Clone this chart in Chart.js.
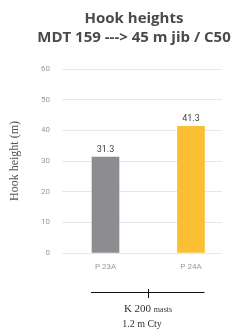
<!DOCTYPE html>
<html><head><meta charset="utf-8">
<script src="https://cdn.jsdelivr.net/npm/chart.js@4"></script>
<style>
html,body{margin:0;padding:0;background:#fff;}
#wrap{position:relative;width:243px;height:331px;overflow:hidden;}
#title{position:absolute;left:0;top:8px;width:268px;text-align:center;font:bold 15px "Open Sans",sans-serif;line-height:19px;color:#4a4a4a;white-space:nowrap;letter-spacing:0px;}
.note{position:absolute;left:0;width:296px;text-align:center;font-family:"Liberation Serif",serif;color:#333;white-space:nowrap;}
</style></head>
<body>
<div id="wrap">
<canvas id="c" width="243" height="331"></canvas>
<div id="title">Hook heights<br>MDT 159 ---&gt; 45 m jib / C50</div>
<div class="note" style="top:302px;font-size:11px;">K 200 <span style="font-size:8px">masts</span></div>
<div class="note" style="top:318px;font-size:10px;left:-6px;">1.2 m Cty</div>
</div>
<script>
const categories = ['P 23A', 'P 24A'];
const heights = [31.3, 41.3];
const barColors = ['#8d8d91', '#fbbf33'];
const yTicks = [0, 10, 20, 30, 40, 50, 60];

const labelPlugin = {
  id: 'labels',
  afterDatasetsDraw(chart) {
    const ctx = chart.ctx;
    const meta = chart.getDatasetMeta(0);
    ctx.save();
    ctx.font = '9px Roboto, sans-serif';
    ctx.fillStyle = '#444';
    ctx.textAlign = 'center';
    ctx.textBaseline = 'bottom';
    meta.data.forEach((bar, i) => {
      ctx.fillText(String(heights[i]), bar.x, bar.y - 3);
    });
    // bracket under categories
    const a = meta.data[0], b = meta.data[meta.data.length - 1];
    const x0 = a.x - a.width / 2 - 1, x1 = b.x + b.width / 2;
    const y = 292;
    ctx.strokeStyle = '#111';
    ctx.lineWidth = 1;
    ctx.beginPath();
    ctx.moveTo(x0, y + 0.5); ctx.lineTo(x1, y + 0.5);
    const xm = Math.round((x0 + x1) / 2) + 0.5;
    ctx.moveTo(xm, y - 3); ctx.lineTo(xm, y + 6);
    ctx.stroke();
    ctx.restore();
  }
};

new Chart(document.getElementById('c'), {
  type: 'bar',
  data: {
    datasets: [{
      data: categories.map((c, i) => ({x: i, y: heights[i]})),
      backgroundColor: barColors,
      barThickness: 27
    }]
  },
  options: {
    responsive: false,
    animation: false,
    layout: {padding: {top: 69, right: 21, bottom: 0, left: 0}},
    plugins: {legend: {display: false}, tooltip: {enabled: false}},
    scales: {
      x: {
        type: 'linear',
        min: -0.509, max: 1.363,
        offset: false,
        grid: {display: false, drawTicks: false},
        border: {display: false},
        afterBuildTicks: s => { s.ticks = categories.map((c, i) => ({value: i})); },
        afterFit: s => { s.height = 78; },
        ticks: {
          padding: 9,
          color: '#999',
          font: {family: 'Roboto', size: 8},
          callback: v => categories[v] ?? ''
        }
      },
      y: {
        min: 0, max: 60,
        afterBuildTicks: s => { s.ticks = yTicks.map(v => ({value: v})); },
        afterFit: s => { s.width = 62; },
        grid: {color: '#e6e6e6', lineWidth: 1, drawTicks: false},
        border: {display: false},
        ticks: {padding: 12, color: '#999', font: {family: 'Roboto', size: 8}},
        title: {
          display: true,
          text: 'Hook height (m)',
          color: '#555',
          font: {family: 'Liberation Serif', size: 12},
          padding: {top: 8, bottom: 0}
        }
      }
    }
  },
  plugins: [labelPlugin]
});
</script>
</body></html>
